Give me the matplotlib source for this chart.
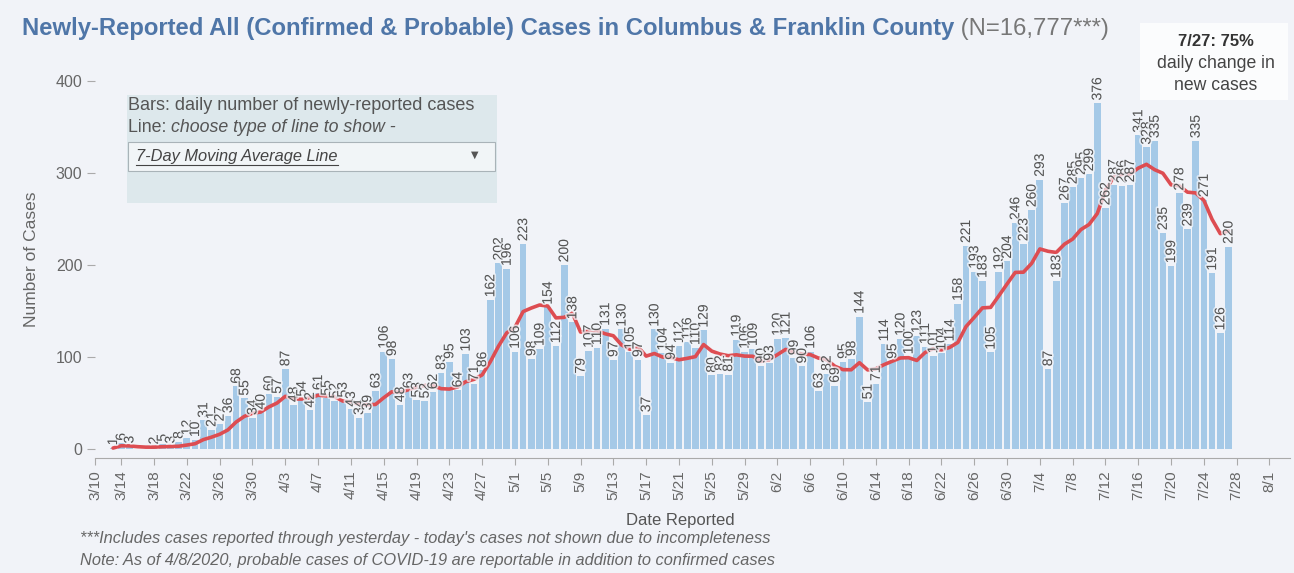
import matplotlib
matplotlib.use("Agg")
import matplotlib.pyplot as plt
import matplotlib.dates as mdates
import matplotlib.patheffects as pe
from matplotlib.patches import Rectangle
from matplotlib.lines import Line2D
import pandas as pd

plt.rcParams['font.family'] = ['Liberation Sans', 'DejaVu Sans']

# daily newly-reported cases, one value per day from 3/13 to 7/27
start_date = "2020-03-13"
cases = [
    1, 6, 3, 0, 0, 2, 5, 3, 8, 12, 10, 31, 21, 27, 36, 68, 55, 34, 40,   # 3/13 - 3/31
    60, 57, 87, 48, 54, 42, 61, 55, 52, 53, 43, 34, 39, 63, 106, 98, 48,  # 4/1 - 4/17
    63, 53, 52, 62, 83, 95, 64, 103, 71, 86, 162, 202, 196,               # 4/18 - 4/30
    106, 223, 98, 109, 154, 112, 200, 138, 79, 107, 110, 131, 97, 130,    # 5/1 - 5/14
    105, 97, 37, 130, 104, 94, 112, 116, 110, 129, 80, 82, 81, 119, 106,  # 5/15 - 5/29
    109, 90,                                                              # 5/30 - 5/31
    93, 120, 121, 99, 90, 106, 63, 82, 69, 95, 98, 144, 51, 71, 114,      # 6/1 - 6/15
    95, 120, 100, 123, 111, 101, 104, 114, 158, 221, 193, 183, 105, 192,  # 6/16 - 6/29
    204,                                                                  # 6/30
    246, 223, 260, 293, 87, 183, 267, 285, 295, 299, 376, 262, 287, 286,  # 7/1 - 7/14
    287, 341, 328, 335, 235, 199, 278, 239, 335, 271, 191, 126, 220,      # 7/15 - 7/27
]

tick_dates = ["2020-03-14", "2020-08-01"]
first_tick_label = "3/10"

title_main = "Newly-Reported All (Confirmed & Probable) Cases in Columbus & Franklin County"
title_n = " (N=16,777***)"
note1 = "***Includes cases reported through yesterday - today's cases not shown due to incompleteness"
note2 = "Note: As of 4/8/2020, probable cases of COVID-19 are reportable in addition to confirmed cases"

bg = "#f1f3f8"
bar_color = "#a5c9e7"
line_color = "#dd4d52"
txt = "#666666"

dates = pd.date_range(start_date, periods=len(cases), freq="D")
x = mdates.date2num(dates)
avg7 = pd.Series(cases, index=dates).rolling(7, min_periods=1).mean()

W, H = 1294, 573
fig = plt.figure(figsize=(W / 100, H / 100), dpi=100, facecolor=bg)
ax = fig.add_axes([95 / W, 1 - 458 / H, 1195 / W, 398 / H])
ax.set_facecolor(bg)

ax.bar(x, cases, width=0.82, color=bar_color, zorder=2)
ax.plot(x, avg7.values, color=line_color, lw=2.6, zorder=4, solid_capstyle="round")

halo = [pe.withStroke(linewidth=2.5, foreground=(0.95, 0.96, 0.98, 0.75))]
for xi, v in zip(x, cases):
    if v == 0:
        continue
    ax.text(xi, v + 3, str(v), rotation=90, ha="center", va="bottom",
            fontsize=10, color="#555555", zorder=5, path_effects=halo)

x0 = x[0] - 2.2
x1 = x[0] + 143.5
ax.set_xlim(x0, x1)
ax.set_ylim(-9.8, 423)

ticks = pd.date_range(tick_dates[0], tick_dates[1], freq="4D")
tick_pos = [x0] + list(mdates.date2num(ticks))
tick_lab = [first_tick_label] + [f"{d.month}/{d.day}" for d in ticks]
ax.set_xticks(tick_pos)
ax.set_xticklabels(tick_lab, rotation=90, fontsize=11, color=txt)
ax.set_yticks([0, 100, 200, 300, 400])
ax.set_yticklabels(["0", "100", "200", "300", "400"], fontsize=11.5, color=txt)
ax.tick_params(axis="x", length=5, color="#aaaaaa", pad=4)
ax.tick_params(axis="y", length=6, color="#aaaaaa", pad=3)

for s in ["top", "right", "left"]:
    ax.spines[s].set_visible(False)
ax.spines["bottom"].set_color("#aaaaaa")

ax.set_ylabel("Number of Cases", fontsize=12.5, color=txt, labelpad=12)
fig.text(680 / W, 1 - 520 / H, "Date Reported", ha="center", va="center",
         fontsize=12, color="#555555")
fig.text(80 / W, 1 - 539 / H, note1, ha="left", va="center", fontsize=11.8,
         style="italic", color=txt)
fig.text(80 / W, 1 - 561 / H, note2, ha="left", va="center", fontsize=11.8,
         style="italic", color=txt)

# title in two colours
t1 = fig.text(22 / W, 1 - 29 / H, title_main, ha="left", va="center",
              fontsize=17.2, fontweight="bold", color="#4f76a8")
fig.canvas.draw()
r = fig.canvas.get_renderer()
bb = t1.get_window_extent(r)
fig.text(bb.x1 / W, 1 - 29 / H, title_n, ha="left", va="center",
         fontsize=17.2, color="#777777")

# info box top right
fig.patches.append(Rectangle((1140 / W, 1 - 100 / H), 148 / W, 77 / H,
                             transform=fig.transFigure, facecolor="#fbfcfd",
                             edgecolor="none", zorder=6))
fig.text(1216 / W, 1 - 42 / H, "7/27: 75%", ha="center", va="center",
         fontsize=12, fontweight="bold", color="#333333", zorder=7)
fig.text(1216 / W, 1 - 64 / H, "daily change in", ha="center", va="center",
         fontsize=12.7, color="#444444", zorder=7)
fig.text(1216 / W, 1 - 86 / H, "new cases", ha="center", va="center",
         fontsize=12.7, color="#444444", zorder=7)

# legend / control box
fig.patches.append(Rectangle((127 / W, 1 - 203 / H), 370 / W, 108 / H,
                             transform=fig.transFigure, facecolor="#dde8ec",
                             edgecolor="none", zorder=6))
fig.text(128 / W, 1 - 106 / H, "Bars: daily number of newly-reported cases",
         ha="left", va="center", fontsize=13, color="#555555", zorder=7)
t2 = fig.text(128 / W, 1 - 127 / H, "Line: ", ha="left", va="center",
              fontsize=12.8, color="#555555", zorder=7)
bb2 = t2.get_window_extent(r)
fig.text(bb2.x1 / W, 1 - 127 / H, "choose type of line to show -", ha="left",
         va="center", fontsize=12.8, style="italic", color="#555555", zorder=7)
fig.patches.append(Rectangle((128 / W, 1 - 171 / H), 367 / W, 29 / H,
                             transform=fig.transFigure, facecolor="#f1f5f7",
                             edgecolor="#a9b3b8", lw=0.8, zorder=7))
t3 = fig.text(136 / W, 1 - 156 / H, "7-Day Moving Average Line", ha="left",
              va="center", fontsize=11.8, style="italic", color="#444444", zorder=8)
bb3 = t3.get_window_extent(r)
fig.lines.append(Line2D([bb3.x0 / W, bb3.x1 / W], [(bb3.y0 - 1) / H, (bb3.y0 - 1) / H],
                        transform=fig.transFigure, color="#444444", lw=0.8, zorder=8))
fig.text(475 / W, 1 - 155 / H, "\u25bc", ha="center", va="center",
         fontsize=7, color="#555555", zorder=8, family=["DejaVu Sans"])

fig.savefig("out.png", dpi=100, facecolor=bg)
